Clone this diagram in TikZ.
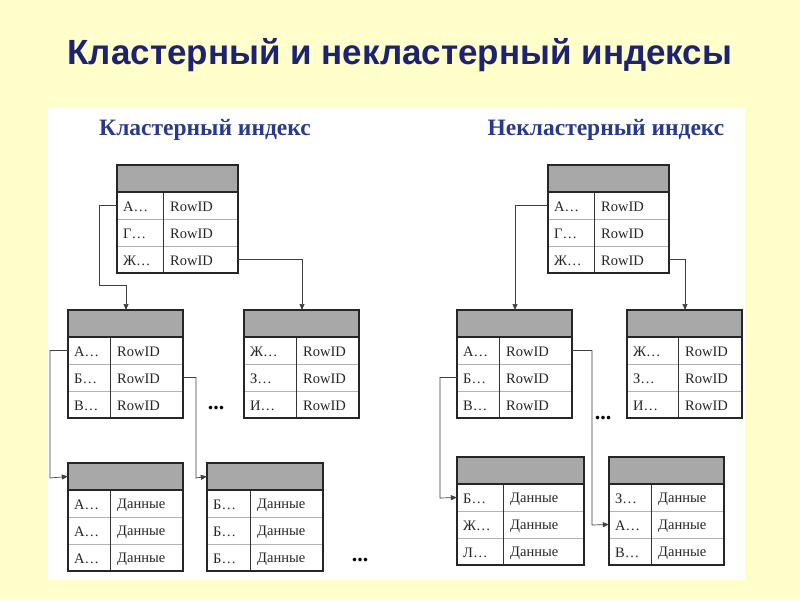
\documentclass[tikz,border=0pt]{standalone}
\usepackage{fontspec}
\setmainfont{Liberation Serif}
\newfontfamily\titlefont{Liberation Sans}
\usetikzlibrary{arrows.meta}
\definecolor{bgy}{HTML}{FFFFCC}
\definecolor{ttl}{HTML}{1E2370}
\definecolor{sub}{HTML}{2A3A8A}
\definecolor{hdr}{HTML}{A8A8A8}
\tikzset{
 conn/.style={draw=black!75, line width=0.7pt, -{Triangle[length=6pt,width=5pt]}},
 rowbox/.style={inner sep=0pt, minimum height=27pt},
 celltxt/.style={font=\fontsize{14.5}{16}\selectfont, anchor=west, inner sep=0pt, text=black!85},
 dots/.style={font=\bfseries\fontsize{22}{22}\selectfont, inner sep=0pt}
}
% name, x, y, width, split, rows
\newcommand\mytbl[6]{%
 \fill[hdr] (#2,#3) rectangle ++(#4,27);
 \node[rowbox, minimum width=#4pt] (#1-h) at (#2+#4/2,#3+13.5) {};
 \foreach \a/\b [count=\i] in {#6} {
   \node[rowbox, minimum width=#4pt] (#1-\i) at (#2+#4/2,#3+27*\i+13.5) {};
   \node[celltxt] (#1-\i a) at (#2+6,#3+27*\i+15) {\a};
   \node[celltxt] (#1-\i b) at (#2+#5+7,#3+27*\i+15) {\b};
 }
 \draw[gray!60, line width=0.8pt] (#2,#3+54) -- ++(#4,0) (#2,#3+81) -- ++(#4,0);
 \draw[black!80, line width=0.8pt] (#2+#5,#3+27) -- ++(0,81);
 \draw[black!85, line width=1.1pt] (#2,#3+27) -- ++(#4,0);
 \draw[black!85, line width=1.6pt] (#2,#3) rectangle ++(#4,108);
}
\begin{document}
\begin{tikzpicture}[x=1pt,y=-1pt]
\fill[bgy] (0,0) rectangle (800,600);
\useasboundingbox (0,0) rectangle (800,600);
\fill[white] (48,108) rectangle (745,580);
\node[font=\titlefont\bfseries\fontsize{35}{38}\selectfont, text=ttl] (title) at (400,55) {Кластерный и некластерный индексы};
\node[font=\bfseries\fontsize{23.5}{26}\selectfont, text=sub] (st1) at (205,130) {Кластерный индекс};
\node[font=\bfseries\fontsize{23.5}{26}\selectfont, text=sub] (st2) at (606,130) {Некластерный индекс};

% left side
\mytbl{lt}{117}{165}{121}{46}{А…/RowID,Г…/RowID,Ж…/RowID}
\mytbl{lm}{68}{310}{115}{42}{А…/RowID,Б…/RowID,В…/RowID}
\mytbl{lr}{244}{310}{115}{52}{Ж…/RowID,З…/RowID,И…/RowID}
\mytbl{lb}{68}{463}{115}{42}{А…/Данные,А…/Данные,А…/Данные}
\mytbl{lc}{207}{463}{116}{43}{Б…/Данные,Б…/Данные,Б…/Данные}
% right side
\mytbl{rt}{548}{165}{121}{46}{А…/RowID,Г…/RowID,Ж…/RowID}
\mytbl{rm}{457}{310}{115}{42}{А…/RowID,Б…/RowID,В…/RowID}
\mytbl{rr}{627}{310}{115}{51}{Ж…/RowID,З…/RowID,И…/RowID}
\mytbl{rb}{457}{457}{127}{46}{Б…/Данные,Ж…/Данные,Л…/Данные}
\mytbl{rc}{609}{457}{115}{42}{З…/Данные,А…/Данные,В…/Данные}

\node[dots] (d1) at (216,408) {...};
\node[dots] (d2) at (360,560) {...};
\node[dots] (d3) at (603,418) {...};

% left connectors
\coordinate (b1) at (99,285);
\coordinate (t1) at (126,310);
\draw[conn] (lt-1.west) -| (b1) -| (t1);
\coordinate (t2) at (302,310);
\draw[conn] (lt-3.east) -| (t2);
\coordinate (b3) at (50,478);
\draw[conn] (lm-1.west) -| (b3) -- (lb-h.west);
\coordinate (b4) at (196,478);
\draw[conn] (lm-2.east) -| (b4) -- (lc-h.west);
% right connectors
\coordinate (t3) at (515,310);
\draw[conn] (rt-1.west) -| (t3);
\coordinate (t4) at (685,310);
\draw[conn] (rt-3.east) -| (t4);
\coordinate (b5) at (440,498);
\draw[conn] (rm-2.west) -| (b5) -- (rb-1.west);
\coordinate (b6) at (592,525);
\draw[conn] (rm-1.east) -| (b6) -- (rc-2.west);
\end{tikzpicture}
\end{document}
